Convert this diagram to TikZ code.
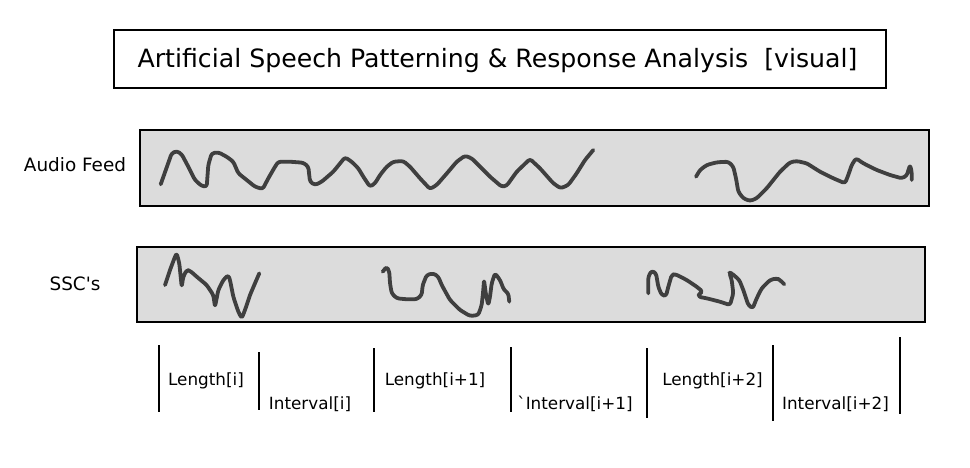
\documentclass[tikz,border=0pt]{standalone}
\usepackage{fontspec}
\setmainfont{DejaVu Sans}
\definecolor{trackgray}{HTML}{DCDCDC}
\definecolor{wavegray}{HTML}{3F3F3F}
\tikzset{
  framebox/.style={draw=black, line width=1.2pt, inner sep=0pt},
  trackbox/.style={draw=black, fill=trackgray, line width=1.2pt, inner sep=0pt},
  wave/.style={draw=wavegray, line width=3.8pt, line cap=round, line join=round, rounded corners=2.5pt},
  sepline/.style={draw=black, line width=1.1pt},
  titletxt/.style={anchor=base, inner sep=0pt, font=\fontsize{25.2}{30}\selectfont},
  sidetxt/.style={anchor=base, inner sep=0pt, font=\fontsize{18.4}{22}\selectfont},
  lbl/.style={anchor=base, inner sep=0pt, font=\fontsize{16.8}{20}\selectfont},
}
\begin{document}
\begin{tikzpicture}[x=1pt,y=-1pt]
\useasboundingbox (0,0) rectangle (970,467);
\fill[white] (0,0) rectangle (970,467);

% title
\node[framebox, minimum width=772pt, minimum height=58pt] (title) at (500,59) {};
\node[titletxt] (titletext) at (497.5,67) {Artificial Speech Patterning \& Response Analysis\ \ [visual]};

% tracks
\node[trackbox, minimum width=789pt, minimum height=76pt] (audio) at (534.5,168) {};
\node[trackbox, minimum width=788pt, minimum height=75pt] (ssc) at (531,284.5) {};
\node[sidetxt] (audiolbl) at (75,171.5) {Audio Feed};
\node[sidetxt] (ssclbl) at (75,290.5) {SSC\textquotesingle s};

% audio waveform
\draw[wave] (160.7,184.3) -- (171.7,153.3) -- (176.7,151) -- (181.7,154.3) -- (188.3,166.7) -- (195,180) -- (201.7,186) -- (206.7,186.7) -- (208.3,165) -- (211.7,153.3) -- (218.3,152.3) -- (226.7,156.7) -- (233.3,161.7) -- (238.3,173.3) -- (246.7,180) -- (255,186.7) -- (262.7,189) -- (268.3,178.3) -- (275,166.7) -- (278.3,161.7) -- (290,161.7) -- (303.3,162.7) -- (308.3,166.7) -- (310,181.7) -- (315,185) -- (321.7,181.7) -- (333.3,171.7) -- (345,157.3) -- (351.7,161.7) -- (358.3,168.3) -- (363.3,176.7) -- (370,186.7) -- (375,183.3) -- (380,175) -- (386.7,166.7) -- (393.3,161.7) -- (403.3,161) -- (410,166.7) -- (420,178.3) -- (430,189) -- (436.7,185) -- (448.3,171.7) -- (456.7,161.7) -- (465,155.7) -- (471.7,158.3) -- (476.7,163.3) -- (490,176.7) -- (501.7,186.7) -- (506.7,185.7) -- (516.7,171.7) -- (530,159) -- (540,168.3) -- (553.3,183.3) -- (560.7,188.3) -- (568.3,185) -- (576.7,173.3) -- (585,160) -- (593.3,150);
\draw[wave] (696,176.7) -- (700,170) -- (706.7,165) -- (716.7,162.3) -- (728.3,161.7) -- (733.3,166.7) -- (736,178.3) -- (738.3,191.7) -- (743.3,198.3) -- (750,201) -- (756.7,198.3) -- (766.7,188.3) -- (780,171.7) -- (790,162.3) -- (796.7,161) -- (806.7,163.3) -- (820,171.7) -- (833.3,178.3) -- (845,183.3) -- (848.3,175) -- (851.7,165) -- (856,158.3) -- (863.3,163.3) -- (876.7,170) -- (890,175) -- (901.7,178.3) -- (906.7,175.7) -- (910,165) -- (911.7,171.7) -- (911.7,180);

% SSC waveforms
\draw[wave] (165,285) -- (170,270) -- (175,256.7) -- (176.7,253.3) -- (179.3,263.3) -- (181.7,286.7) -- (183.3,276.7) -- (186.7,270) -- (190,270.7) -- (196.7,276.7) -- (206.7,285) -- (213.3,295) -- (215,306.7) -- (218.3,290) -- (223.3,280) -- (228.3,275) -- (230,280) -- (233.3,296.7) -- (238.3,311.7) -- (241.7,318.3) -- (245,310) -- (250,295) -- (255,283.3) -- (259.3,273.3);
\draw[wave] (382.7,271.7) -- (386.7,266.7) -- (389.3,271.7) -- (390,283.3) -- (391.7,293.3) -- (396.7,298.3) -- (406.7,299.3) -- (416.7,299.3) -- (421.7,295) -- (422.7,285) -- (426.7,275) -- (433.3,273.3) -- (438.3,276.7) -- (441.7,285) -- (450,300) -- (460,310) -- (470,316) -- (478.3,315) -- (481.7,305) -- (483.3,290) -- (484,280) -- (486,295) -- (488.3,305) -- (490,296.7) -- (491.7,283.3) -- (495,273.3) -- (500,280) -- (504,290) -- (508.3,293.3) -- (509.3,301.7);
\draw[wave] (648.3,293.3) -- (648.3,276.7) -- (651.7,270.7) -- (656,273.3) -- (658.3,286.7) -- (661.7,295) -- (666,296) -- (668.3,286.7) -- (671.7,275) -- (675,274) -- (686.7,280) -- (696.7,286.7) -- (702.7,291.7) -- (699.3,293.3) -- (698.3,296.7) -- (706.7,298.3) -- (720,301.7) -- (730,305) -- (733.3,293.3) -- (731.7,280) -- (729.3,272.7) -- (731.7,273.3) -- (739.3,280) -- (743.3,290) -- (748.3,305) -- (752.7,308.3) -- (756.7,298.3) -- (761.7,288.3) -- (770,280) -- (776.7,278.3) -- (780,280) -- (784.3,284.3);

% separators
\draw[sepline] (159,345) -- (159,412);
\draw[sepline] (259,352) -- (259,410);
\draw[sepline] (374,348) -- (374,412);
\draw[sepline] (511,347) -- (511,412);
\draw[sepline] (647,348) -- (647,418);
\draw[sepline] (773,345) -- (773,421);
\draw[sepline] (900,337) -- (900,414);

% labels
\node[lbl] (len0) at (206,385) {Length[i]};
\node[lbl] (int0) at (310,409.5) {Interval[i]};
\node[lbl] (len1) at (435,385) {Length[i+1]};
\node[lbl] (int1) at (575,409.5) {\textasciigrave Interval[i+1]};
\node[lbl] (len2) at (712.5,385) {Length[i+2]};
\node[lbl] (int2) at (835.5,409.5) {Interval[i+2]};
\end{tikzpicture}
\end{document}
